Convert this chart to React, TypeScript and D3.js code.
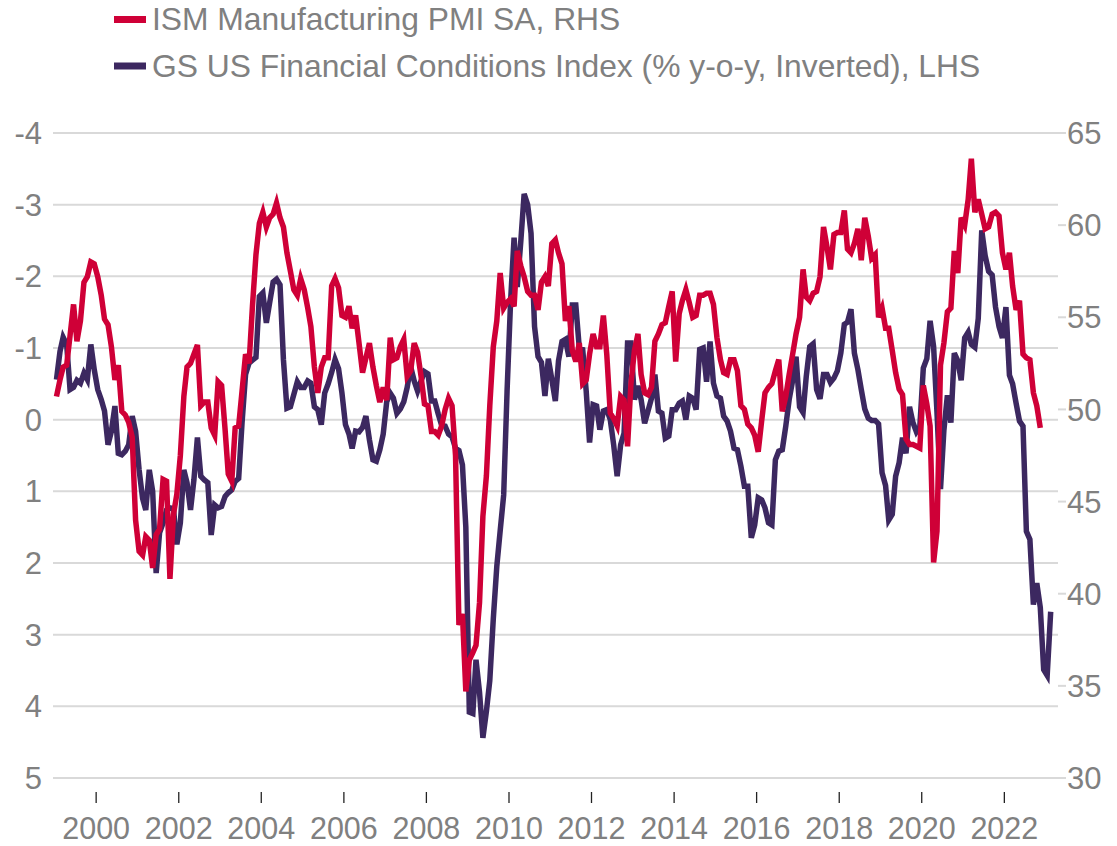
import React from "react";
import * as d3 from "d3";

// ISM Manufacturing PMI SA (RHS), monthly Jan 1999 – Nov 2022
const ismPmi: number[] = [
  // 1999
  50.7, 51.6, 52.3, 52.4, 54.0, 55.7, 53.7, 54.8, 56.9, 57.2, 58.0, 57.9,
  // 2000
  57.2, 56.2, 54.9, 54.6, 53.4, 51.6, 52.4, 49.9, 49.7, 49.3, 48.5, 44.0,
  // 2001
  42.3, 42.1, 43.1, 42.9, 41.4, 43.2, 43.5, 46.2, 46.1, 40.8, 44.3, 45.4,
  // 2002
  47.5, 50.7, 52.3, 52.5, 53.0, 53.5, 50.2, 50.4, 50.4, 49.0, 48.6, 51.5,
  // 2003
  51.3, 48.9, 46.5, 46.1, 49.0, 49.1, 51.0, 53.0, 52.5, 55.6, 58.4, 60.1,
  // 2004
  60.7, 59.9, 60.4, 60.6, 61.2, 60.4, 59.9, 58.5, 57.5, 56.5, 56.2, 57.1,
  // 2005
  56.5, 55.5, 54.5, 52.3, 50.9, 52.3, 52.8, 52.8, 56.7, 57.1, 56.6, 55.1,
  // 2006
  55.0, 55.6, 54.4, 55.1, 53.6, 52.0, 52.8, 53.6, 52.3, 51.3, 50.4, 51.2,
  // 2007
  50.5, 53.9, 52.7, 52.8, 53.4, 53.8, 51.8, 52.1, 53.6, 53.1, 51.8, 50.3,
  // 2008
  50.2, 48.8, 48.8, 48.6, 49.1, 50.0, 50.6, 50.2, 47.5, 38.3, 38.9, 34.7,
  // 2009
  36.4, 36.8, 37.2, 39.5, 44.2, 46.4, 50.2, 53.4, 54.8, 57.4, 55.5, 55.8,
  // 2010
  56.0, 55.6, 58.6, 57.8, 57.2, 56.4, 56.2, 56.2, 55.4, 56.9, 57.2, 56.7,
  // 2011
  59.0, 59.2, 58.5, 57.9, 54.8, 55.6, 53.2, 52.6, 53.6, 51.4, 51.6, 53.0,
  // 2012
  54.1, 53.4, 53.4, 55.1, 53.0, 49.8, 49.5, 49.1, 50.7, 50.5, 48.0, 51.4,
  // 2013
  53.2, 54.1, 51.9, 50.9, 50.8, 51.2, 53.7, 54.1, 54.6, 54.7, 55.6, 56.4,
  // 2014
  52.6, 55.2, 55.9, 56.5, 55.8, 55.0, 55.1, 56.2, 56.2, 56.3, 56.3, 55.7,
  // 2015
  53.9, 52.7, 52.0, 51.9, 52.7, 52.7, 52.1, 50.2, 50.0, 49.2, 49.0, 48.6,
  // 2016
  47.7, 49.4, 50.9, 51.2, 51.4, 52.1, 52.7, 49.9, 50.7, 51.9, 53.0, 54.1,
  // 2017
  55.0, 57.6, 56.1, 55.9, 56.3, 56.4, 57.2, 59.9, 58.8, 57.6, 59.5, 59.6,
  // 2018
  59.6, 60.8, 58.7, 58.5, 59.0, 59.8, 58.1, 60.4, 59.4, 58.2, 58.4, 55.0,
  // 2019
  55.5, 54.4, 54.4, 53.2, 52.0, 51.1, 50.8, 48.4, 48.1, 48.1, 48.0, 47.9,
  // 2020
  51.3, 50.3, 49.1, 41.7, 43.4, 52.4, 53.6, 55.3, 55.5, 58.6, 57.4, 60.4,
  // 2021
  60.0, 61.4, 63.6, 60.7, 61.4, 60.6, 59.8, 59.9, 60.6, 60.7, 60.5, 58.5,
  // 2022
  57.6, 58.5, 56.7, 55.4, 55.9, 53.0, 52.8, 52.7, 50.9, 50.2, 49.0,
];

// GS US Financial Conditions Index, % y-o-y (LHS, axis inverted), monthly Jan 1999 – Feb 2023
const gsFci: number[] = [
  // 1999
  -0.56, -0.95, -1.15, -1.05, -0.42, -0.45, -0.55, -0.51, -0.65, -0.56, -1.05, -0.7,
  // 2000
  -0.42, -0.28, -0.12, 0.35, 0.16, -0.19, 0.47, 0.49, 0.44, 0.35, -0.05, 0.16,
  // 2001
  0.7, 1.1, 1.26, 0.7, 1.0, 2.14, 1.58, 1.44, 1.26, 1.23, 1.24, 1.74,
  // 2002
  1.44, 0.7, 0.88, 1.26, 0.84, 0.25, 0.79, 0.84, 0.88, 1.61, 1.19, 1.23,
  // 2003
  1.21, 1.07, 1.02, 0.98, 0.86, 0.82, 0.04, -0.63, -0.79, -0.83, -0.87, -1.72,
  // 2004
  -1.77, -1.35, -1.63, -1.92, -1.96, -1.88, -0.84, -0.16, -0.18, -0.35, -0.53, -0.45,
  // 2005
  -0.45, -0.54, -0.51, -0.18, -0.14, 0.07, -0.37, -0.5, -0.66, -0.84, -0.71, -0.37,
  // 2006
  0.07, 0.2, 0.4, 0.16, 0.17, 0.11, -0.05, 0.28, 0.56, 0.58, 0.42, 0.2,
  // 2007
  -0.25, -0.37, -0.3, -0.09, -0.15, -0.25, -0.45, -0.74, -0.54, -0.4, -0.54, -0.67,
  // 2008
  -0.64, -0.26, -0.26, -0.08, 0.08, 0.09, 0.2, 0.24, 0.4, 0.43, 0.63, 1.5,
  // 2009
  4.08, 4.1, 3.35, 3.8, 4.44, 4.07, 3.64, 2.78, 2.05, 1.55, 1.05, -0.4,
  // 2010
  -1.65, -2.54, -1.85, -2.48, -3.15, -3.0, -2.6, -1.3, -0.88, -0.8, -0.33, -0.85,
  // 2011
  -0.56, -0.26, -0.82, -1.09, -1.12, -0.88, -1.6, -1.6, -1.0, -0.98, -0.4, 0.32,
  // 2012
  -0.21, -0.19, 0.14, -0.12, -0.14, 0.0, 0.35, 0.79, 0.35, 0.19, -1.07, -1.07,
  // 2013
  -0.28, -0.47, -0.28, 0.05, -0.12, -0.3, -0.63, -0.12, -0.09, 0.26, 0.23, -0.14,
  // 2014
  -0.14, -0.23, -0.26, 0.0, -0.33, -0.3, -0.14, -0.98, -1.0, -0.53, -1.09, -0.51,
  // 2015
  -0.33, -0.3, -0.05, 0.02, 0.16, 0.4, 0.42, 0.65, 0.93, 0.93, 1.65, 1.47,
  // 2016
  1.09, 1.12, 1.23, 1.44, 1.47, 0.56, 0.44, 0.42, 0.09, -0.28, -0.55, -0.88,
  // 2017
  -0.18, -0.1, -0.6, -1.02, -1.06, -0.42, -0.29, -0.63, -0.63, -0.52, -0.58, -0.68,
  // 2018
  -0.93, -1.33, -1.36, -1.54, -0.93, -0.7, -0.42, -0.15, -0.02, 0.01, 0.01, 0.06,
  // 2019
  0.74, 0.92, 1.4, 1.32, 0.79, 0.6, 0.25, 0.47, -0.18, 0.04, 0.17, 0.1,
  // 2020
  -0.72, -0.85, -1.38, -1.02, -0.1, 0.97, 0.15, -0.34, 0.04, -0.93, -0.82, -0.55,
  // 2021
  -1.14, -1.22, -1.05, -1.01, -1.41, -2.64, -2.29, -2.07, -2.02, -1.57, -1.3, -1.14,
  // 2022
  -1.57, -0.62, -0.5, -0.23, 0.02, 0.09, 1.56, 1.67, 2.58, 2.28, 2.62, 3.49,
  // 2023
  3.57, 2.68,
];

const startYear = 1999;
const leftTicks: number[] = [-4, -3, -2, -1, 0, 1, 2, 3, 4, 5];
const rightTicks: number[] = [30, 35, 40, 45, 50, 55, 60, 65];
const yearTicks: number[] = [2000, 2002, 2004, 2006, 2008, 2010, 2012, 2014, 2016, 2018, 2020, 2022];

const legendItems = [
  { label: "ISM Manufacturing PMI SA, RHS", color: "#cf0037" },
  { label: "GS US Financial Conditions Index (% y-o-y, Inverted), LHS", color: "#3c2860" },
];

const FONT = "'Liberation Sans', Arial, Helvetica, sans-serif";
const TEXT_GRAY = "#808080";
const GRID = "#d9d9d9";

export default function App() {
  const width = 1117;
  const height = 846;
  const plotTop = 133;
  const plotBottom = 778;
  const gridLeft = 53;
  const gridRight = 1058;

  const monthDate = (i: number) => new Date(startYear, i, 15);

  const x = d3
    .scaleTime()
    .domain([new Date(1999, 0, 1), new Date(2023, 0, 1)])
    .range([54.9, 1045.6]);
  const yL = d3.scaleLinear().domain([5, -4]).range([plotBottom, plotTop]);
  const yR = d3.scaleLinear().domain([30, 65]).range([plotBottom, plotTop]);

  const lineL = d3
    .line<number>()
    .x((_, i) => x(monthDate(i)))
    .y((d) => yL(d));
  const lineR = d3
    .line<number>()
    .x((_, i) => x(monthDate(i)))
    .y((d) => yR(d));

  return (
    <svg
      width={width}
      height={height}
      style={{ position: "absolute", left: 0, top: 0, background: "#fff" }}
      fontFamily={FONT}
    >
      <rect x={0} y={0} width={width} height={height} fill="#fff" />

      {/* legend */}
      {legendItems.map((item, k) => (
        <g key={item.label}>
          <rect x={114} y={16 + k * 46.5} width={32} height={7} fill={item.color} />
          <text x={152} y={30 + k * 46.5} fontSize={31.8} fill={TEXT_GRAY}>
            {item.label}
          </text>
        </g>
      ))}

      {/* gridlines (LHS) */}
      {leftTicks.map((t) => (
        <line
          key={"g" + t}
          x1={gridLeft}
          x2={gridRight}
          y1={yL(t)}
          y2={yL(t)}
          stroke={GRID}
          strokeWidth={2}
        />
      ))}

      {/* left labels */}
      {leftTicks.map((t) => (
        <text
          key={"l" + t}
          x={42}
          y={yL(t)}
          dy="0.36em"
          textAnchor="end"
          fontSize={31}
          fill={TEXT_GRAY}
        >
          {t}
        </text>
      ))}

      {/* right ticks & labels */}
      {rightTicks.map((t) => (
        <g key={"r" + t}>
          <line x1={gridRight} x2={1066} y1={yR(t)} y2={yR(t)} stroke={GRID} strokeWidth={2} />
          <text x={1067} y={yR(t)} dy="0.36em" textAnchor="start" fontSize={31} fill={TEXT_GRAY}>
            {t}
          </text>
        </g>
      ))}

      {/* x axis ticks & labels */}
      {yearTicks.map((yr) => {
        const xx = x(new Date(yr, 0, 1));
        return (
          <g key={"x" + yr}>
            <line x1={xx} x2={xx} y1={792} y2={803} stroke="#222" strokeWidth={1.3} />
            <text x={xx} y={839} textAnchor="middle" fontSize={30.5} fill={TEXT_GRAY}>
              {yr}
            </text>
          </g>
        );
      })}

      {/* series */}
      <path d={lineL(gsFci) || ""} fill="none" stroke={legendItems[1].color} strokeWidth={5.5} />
      <path d={lineR(ismPmi) || ""} fill="none" stroke={legendItems[0].color} strokeWidth={5.5} />
    </svg>
  );
}
